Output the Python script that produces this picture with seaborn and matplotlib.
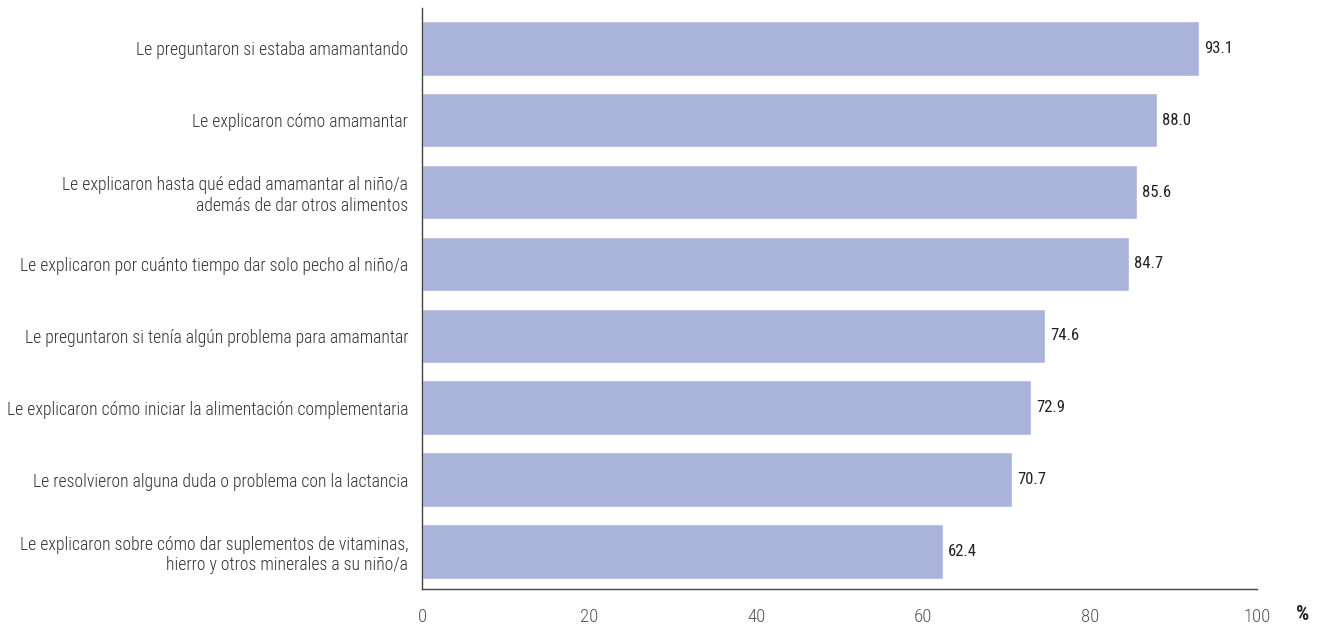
import matplotlib
matplotlib.use("Agg")
import matplotlib.pyplot as plt
import seaborn as sns
import pandas as pd

sns.set_style("white")
plt.rcParams["font.family"] = ["Roboto Condensed", "DejaVu Sans"]

labels = [
    "Le preguntaron si estaba amamantando",
    "Le explicaron cómo amamantar",
    "Le explicaron hasta qué edad amamantar al niño/a\nademás de dar otros alimentos",
    "Le explicaron por cuánto tiempo dar solo pecho al niño/a",
    "Le preguntaron si tenía algún problema para amamantar",
    "Le explicaron cómo iniciar la alimentación complementaria",
    "Le resolvieron alguna duda o problema con la lactancia",
    "Le explicaron sobre cómo dar suplementos de vitaminas,\nhierro y otros minerales a su niño/a",
]
values = [93.1, 88.0, 85.6, 84.7, 74.6, 72.9, 70.7, 62.4]

df = pd.DataFrame({"item": labels, "pct": values})

fig = plt.figure(figsize=(13.19, 6.25), dpi=100)
ax = fig.add_axes([0.32, 0.0576, 0.633, 0.9296])

sns.barplot(data=df, y="item", x="pct", orient="h", color="#aab3da",
            saturation=1, width=0.76, ax=ax)

# value labels at bar ends
for i, v in enumerate(values):
    ax.text(v + 0.6, i, f"{v:.1f}", va="center", ha="left", fontsize=12, color="#222222")

ax.set_xlim(0, 100)
ax.set_ylim(7.52, -0.56)
ax.set_xticks([0, 20, 40, 60, 80, 100])
ax.set_xlabel("")
ax.set_ylabel("")
ax.tick_params(axis="x", direction="in", length=10, width=1, color="#666666",
               labelsize=13.5, labelcolor="#555555", pad=14)
ax.tick_params(axis="y", length=0, labelsize=12.7, labelcolor="#333333", pad=10)
for lab in ax.get_yticklabels() + ax.get_xticklabels():
    lab.set_fontweight("light")
for lab in ax.get_yticklabels():
    lab.set_horizontalalignment("right")
    lab.set_multialignment("right")

for s in ["top", "right"]:
    ax.spines[s].set_visible(False)
for s in ["left", "bottom"]:
    ax.spines[s].set_color("#444444")
    ax.spines[s].set_linewidth(1)

ax.text(1.063, -0.053, "%", transform=ax.transAxes, ha="right", va="baseline",
        fontsize=15, fontweight="bold", color="#222222")

fig.savefig("out.png", dpi=100)
